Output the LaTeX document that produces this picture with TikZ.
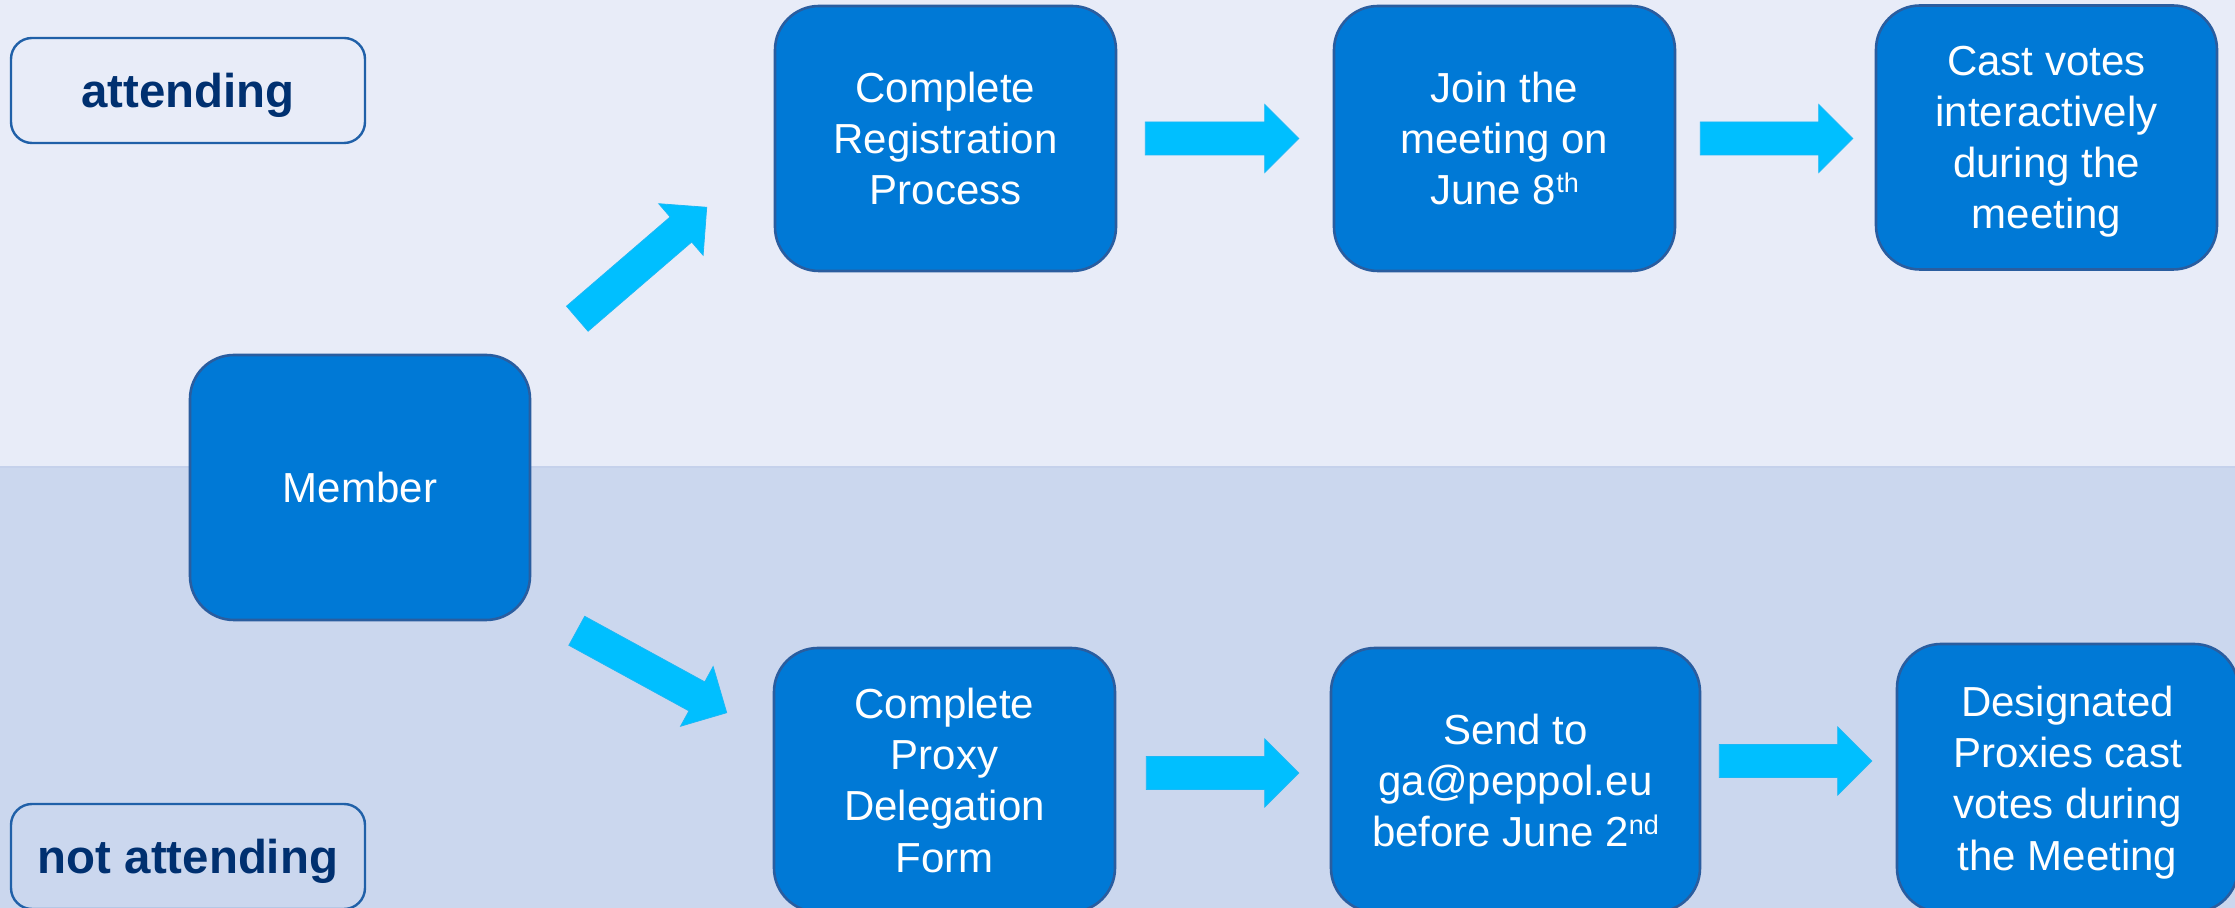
\documentclass[tikz,border=0pt]{standalone}
\usepackage{fontspec}
\setmainfont{Liberation Sans}
\usetikzlibrary{calc}
\definecolor{topbg}{HTML}{E8ECF8}
\definecolor{botbg}{HTML}{CBD7EE}
\definecolor{sepc}{HTML}{C5D1EB}
\definecolor{boxfill}{HTML}{0079D6}
\definecolor{boxedge}{HTML}{2A5D9F}
\definecolor{labedge}{HTML}{2060A8}
\definecolor{labtext}{HTML}{003070}
\definecolor{arrfill}{HTML}{00BFFF}
\definecolor{arredge}{HTML}{1CB8F6}
\newcommand\sups[1]{\raisebox{6pt}{\fontsize{13.5pt}{13.5pt}\selectfont #1}}
\newcommand\barrow[2]{%
  \filldraw[arrstyle]
    ($(#1)!8.25pt!90:(#2)$) --
    ($(#2)!17pt!(#1)!8.25pt!90:(#2)$) --
    ($(#2)!17pt!(#1)!17pt!90:(#2)$) --
    (#2) --
    ($(#2)!17pt!(#1)!17pt!-90:(#2)$) --
    ($(#2)!17pt!(#1)!8.25pt!-90:(#2)$) --
    ($(#1)!8.25pt!-90:(#2)$) -- cycle;}
\begin{document}
\begin{tikzpicture}[x=0.5pt,y=-0.5pt,
  stepbox/.style={draw=boxedge, line width=1.3pt, fill=boxfill, rounded corners=22pt,
    text=white, align=center, inner sep=0pt, text depth=-1.5pt,
    font=\fontsize{21pt}{25.6pt}\selectfont},
  labbox/.style={draw=labedge, line width=1.2pt, rounded corners=10.5pt,
    text=labtext, align=center, inner sep=0pt, text depth=-2pt,
    font=\fontsize{23.7pt}{28pt}\selectfont\bfseries, minimum width=177pt},
  arrstyle/.style={fill=arrfill, draw=arredge, line width=0.4pt, line join=miter}]
\useasboundingbox (0,0) rectangle (2235,908);
\clip (0,0) rectangle (2235,908);
\fill[topbg] (0,0) rectangle (2235,467);
\fill[botbg] (0,467) rectangle (2235,908);
\draw[sepc, line width=0.6pt] (0,467) -- (2235,467);

\node[labbox, minimum height=52.5pt] (att) at (188,90.5) {attending};
\node[labbox, minimum height=52.5pt] (natt) at (188,856.5) {not attending};

\node[stepbox, minimum width=170pt, minimum height=132.5pt] (member) at (360,487.5) {Member};
\node[stepbox, minimum width=170.5pt, minimum height=132.5pt] (reg) at (945.5,138.5) {Complete\\Registration\\Process};
\node[stepbox, minimum width=170.5pt, minimum height=132.5pt] (join) at (1504.5,138.5) {Join the\\meeting on\\June 8\sups{th}};
\node[stepbox, minimum width=170.5pt, minimum height=132pt] (cast) at (2046.5,137.5) {Cast votes\\interactively\\during the\\meeting};
\node[stepbox, minimum width=170.5pt, minimum height=132pt] (proxy) at (944.5,780) {Complete\\Proxy\\Delegation\\Form};
\node[stepbox, minimum width=184.5pt, minimum height=132pt] (send) at (1515.5,780) {Send to\\ga@peppol.eu\\before June 2\sups{nd}};
\node[stepbox, minimum width=170.5pt, minimum height=134pt] (desig) at (2067.5,778) {Designated\\Proxies cast\\votes during\\the Meeting};

\coordinate (u1) at ($(member.north east)+(46,-35)$);
\coordinate (u2) at ($(reg.south west)+(-67,-65)$);
\coordinate (d1) at ($(member.south east)+(45.5,9.5)$);
\coordinate (d2) at ($(proxy.north west)+(-46,66)$);
\coordinate (h1a) at ($(reg.east)+(28,0)$);
\coordinate (h1b) at ($(join.west)+(-34,0)$);
\coordinate (h2a) at ($(join.east)+(24,0)$);
\coordinate (h2b) at ($(cast.west)+(-22,1)$);
\coordinate (h3a) at ($(proxy.east)+(30,-7)$);
\coordinate (h3b) at ($(send.west)+(-31,-7)$);
\coordinate (h4a) at ($(send.east)+(18,-19)$);
\coordinate (h4b) at ($(desig.west)+(-24,-17)$);

\barrow{u1}{u2}
\barrow{d1}{d2}
\barrow{h1a}{h1b}
\barrow{h2a}{h2b}
\barrow{h3a}{h3b}
\barrow{h4a}{h4b}
\end{tikzpicture}
\end{document}
